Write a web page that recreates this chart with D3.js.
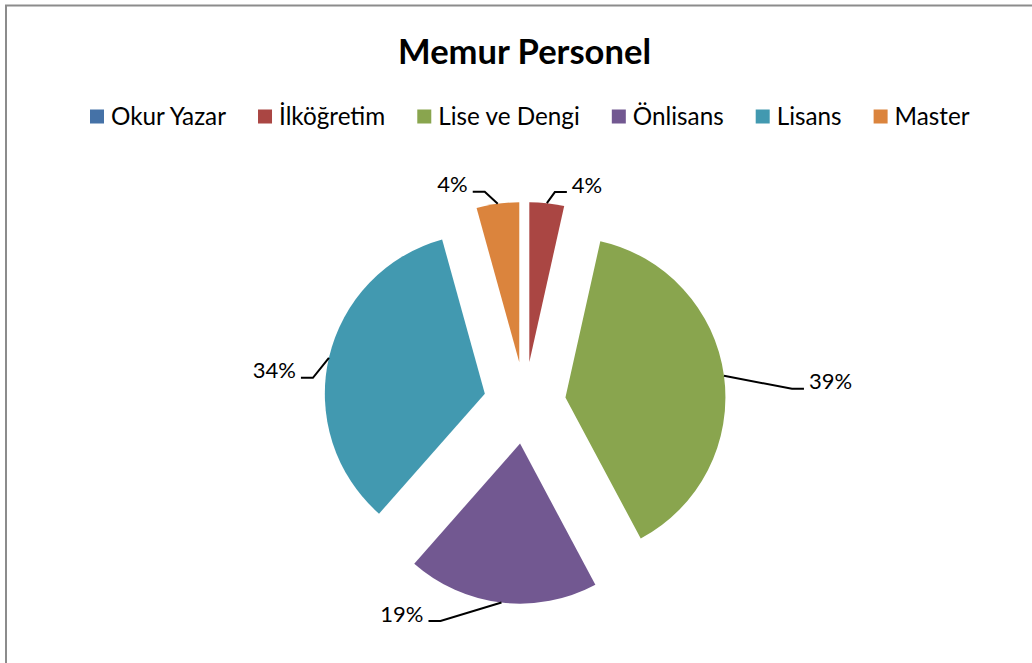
<!DOCTYPE html>
<html>
<head>
<meta charset="utf-8">
<script src="https://cdn.jsdelivr.net/npm/d3@7"></script>
<style>
  body { margin: 0; background: #fff; }
  svg { display: block; font-family: Lato, "Open Sans", sans-serif; }
</style>
</head>
<body>
<svg id="chart" width="1032" height="663"></svg>
<script>
// veriler (yüzde)
const categories = ["Okur Yazar", "İlköğretim", "Lise ve Dengi", "Önlisans", "Lisans", "Master"];
const values = [0, 3.5, 38.7, 19.3, 34.2, 4.3];
const labels = ["0%", "4%", "39%", "19%", "34%", "4%"];
const colors = ["#4572A7", "#AA4643", "#89A54E", "#725891", "#4299B0", "#DB843D"];

// etiket çizgisi kırılma noktaları (dilim kenarına göre)
const labelOffsets = [[0, 0], [8, -11], [68, 13], [-61, 18.5], [-16, 20], [-13, -12]];

const width = 1032, height = 663;
const cx = 524.8, cy = 402.9, radius = 160, explode = 41;

const svg = d3.select("#chart");

// çerçeve
svg.append("rect")
    .attr("x", 6).attr("y", 5.5)
    .attr("width", width + 20).attr("height", height + 20)
    .attr("fill", "#fff")
    .attr("stroke", "#8c8c8c")
    .attr("stroke-width", 2);

// başlık
const title = svg.append("text")
    .attr("x", 524.5).attr("y", 64)
    .attr("text-anchor", "middle")
    .style("font-weight", "bold")
    .style("font-size", "30px")
    .text("Memur Personel");
const tw = title.node().getComputedTextLength();
title.style("font-size", (30 * 253 / tw) + "px");

// lejant
const legend = svg.append("g");
let fs = 22;
const items = legend.selectAll("g").data(categories).enter().append("g");
items.append("rect")
    .attr("width", 14).attr("height", 14)
    .attr("fill", (d, i) => colors[i]);
const ltext = items.append("text")
    .style("font-size", fs + "px")
    .text(d => d);
let textSum = 0;
ltext.each(function () { textSum += this.getComputedTextLength(); });
const gapSq = 7, gapItem = 32;
const fixed = categories.length * (14 + gapSq) + (categories.length - 1) * gapItem;
fs = fs * (880 - fixed) / textSum;
ltext.style("font-size", fs + "px");
let lx = 90;
items.each(function () {
    const g = d3.select(this);
    const t = g.select("text");
    g.attr("transform", "translate(" + lx + "," + 0 + ")");
    g.select("rect").attr("y", 109.5);
    t.attr("x", 14 + gapSq).attr("y", 125);
    lx += 14 + gapSq + t.node().getComputedTextLength() + gapItem;
});

// pasta
const pie = d3.pie().sort(null).value(d => d);
const arc = d3.arc().innerRadius(0).outerRadius(radius);
const arcs = pie(values);

const pieG = svg.append("g").attr("transform", "translate(" + cx + "," + cy + ")");

const slices = pieG.selectAll("g.slice")
    .data(arcs.filter(d => d.value > 0))
    .enter()
    .append("g")
    .attr("class", "slice")
    .attr("transform", function (d) {
        const a = (d.startAngle + d.endAngle) / 2;
        return "translate(" + (Math.sin(a) * explode) + "," + (-Math.cos(a) * explode) + ")";
    });

slices.append("path")
    .attr("d", arc)
    .attr("fill", d => colors[d.index]);

// etiketler
slices.each(function (d) {
    const g = d3.select(this);
    const a = (d.startAngle + d.endAngle) / 2;
    const sx = Math.sin(a) * radius, sy = -Math.cos(a) * radius;
    const off = labelOffsets[d.index];
    const ex = sx + off[0], ey = sy + off[1];
    const dir = off[0] >= 0 ? 1 : -1;
    const hx = ex + dir * 12;
    g.append("path")
        .attr("d", d3.line()([[sx, sy], [ex, ey], [hx, ey]]))
        .attr("fill", "none")
        .attr("stroke", "#000")
        .attr("stroke-width", 2);
    g.append("text")
        .attr("x", hx + dir * 5)
        .attr("y", ey + 0.5)
        .attr("text-anchor", dir > 0 ? "start" : "end")
        .style("font-size", "22px")
        .text(labels[d.index]);
});
</script>
</body>
</html>
